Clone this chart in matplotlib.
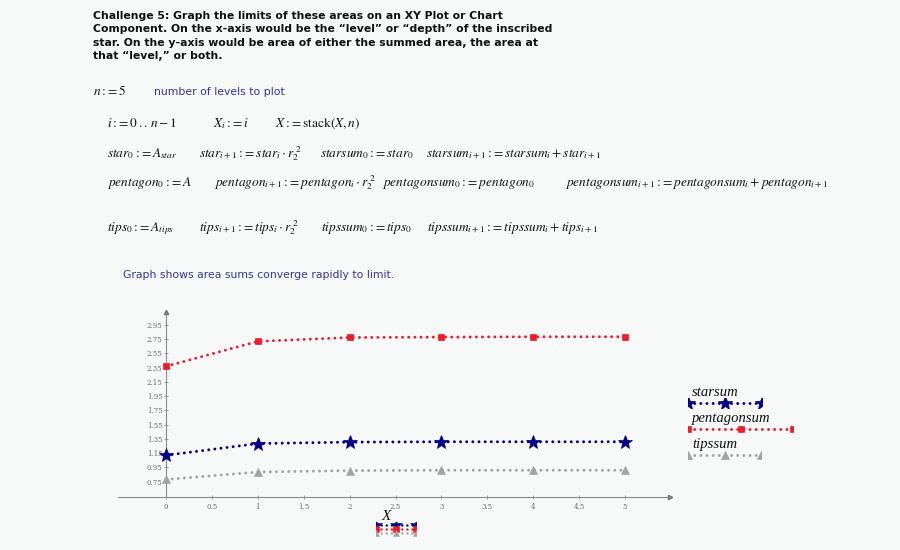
import matplotlib
matplotlib.use("Agg")
import matplotlib.pyplot as plt

plt.rcParams['mathtext.fontset'] = 'stix'

# ---- data ----
X = [0, 1, 2, 3, 4, 5]
starsum = [1.12, 1.285, 1.305, 1.31, 1.31, 1.31]
pentagonsum = [2.37, 2.72, 2.775, 2.78, 2.785, 2.785]
tipssum = [0.78, 0.885, 0.905, 0.91, 0.91, 0.91]
series_names = ["starsum", "pentagonsum", "tipssum"]
xticks = [0, 0.5, 1, 1.5, 2, 2.5, 3, 3.5, 4, 4.5, 5]
xtick_labels = ["0", "0.5", "1", "1.5", "2", "2.5", "3", "3.5", "4", "4.5", "5"]
yticks = [0.75, 0.95, 1.15, 1.35, 1.55, 1.75, 1.95, 2.15, 2.35, 2.55, 2.75, 2.95]
ytick_labels = ["0.75", "0.95", "1.15", "1.35", "1.55", "1.75", "1.95", "2.15",
                "2.35", "2.55", "2.75", "2.95"]

BG = '#f6f9f7'
NAVY = '#000080'
RED = '#ee1c2a'
GRAY = '#a3a3a3'
BLUE_TXT = '#35359a'
W, H = 900, 550

styles = {
    "starsum": dict(color=NAVY, marker='*', ms=10.5),
    "pentagonsum": dict(color=RED, marker='s', ms=5),
    "tipssum": dict(color=GRAY, marker='^', ms=5.5),
}
values = {"starsum": starsum, "pentagonsum": pentagonsum, "tipssum": tipssum}

DOT = (0, (0.01, 2.05))
LW = 2.15

fig = plt.figure(figsize=(9, 5.5), dpi=100, facecolor=BG)


def ftext(x, y, s, **kw):
    kw.setdefault('va', 'baseline')
    kw.setdefault('ha', 'left')
    return fig.text(x / W, 1 - y / H, s, **kw)


# ---- header text ----
title = ("Challenge 5: Graph the limits of these areas on an XY Plot or Chart\n"
         "Component. On the x-axis would be the \u201clevel\u201d or \u201cdepth\u201d of the inscribed\n"
         "star. On the y-axis would be area of either the summed area, the area at\n"
         "that \u201clevel,\u201d or both.")
ftext(93, 11, title, va='top', fontsize=7.8, fontweight='bold', family='DejaVu Sans',
      color='#111111', linespacing=1.42)

A = r'{:}\!{=}'
MS = 9.6
mk = dict(fontsize=MS, color='#111111')
ftext(93, 95, r'$n' + A + r'5$', **mk)
ftext(154, 95, 'number of levels to plot', fontsize=7.8, color=BLUE_TXT, family='DejaVu Sans')

ftext(107, 127, r'$i' + A + r'0\,..\,n-1$', **mk)
ftext(213, 127, r'$X_{i}' + A + r'i$', **mk)
ftext(275, 127, r'$X' + A + r'\mathrm{stack}\left(X,n\right)$', **mk)

ftext(107, 157, r'$star_{0}' + A + r'A_{star}$', **mk)
ftext(199, 157, r'$star_{i+1}' + A + r'star_{i}\cdot r_{2}^{\;2}$', **mk)
ftext(320, 157, r'$starsum_{0}' + A + r'star_{0}$', **mk)
ftext(426, 157, r'$starsum_{i+1}' + A + r'starsum_{i}+star_{i+1}$', **mk)

ftext(107, 186, r'$pentagon_{0}' + A + r'A$', **mk)
ftext(214, 186, r'$pentagon_{i+1}' + A + r'pentagon_{i}\cdot r_{2}^{\;2}$', **mk)
ftext(382, 186, r'$pentagonsum_{0}' + A + r'pentagon_{0}$', **mk)
ftext(565, 186, r'$pentagonsum_{i+1}' + A + r'pentagonsum_{i}+pentagon_{i+1}$', **mk)

ftext(107, 231, r'$tips_{0}' + A + r'A_{tips}$', **mk)
ftext(199, 231, r'$tips_{i+1}' + A + r'tips_{i}\cdot r_{2}^{\;2}$', **mk)
ftext(321, 231, r'$tipssum_{0}' + A + r'tips_{0}$', **mk)
ftext(427, 231, r'$tipssum_{i+1}' + A + r'tipssum_{i}+tips_{i+1}$', **mk)

ftext(123, 278, 'Graph shows area sums converge rapidly to limit.', fontsize=7.8,
      color=BLUE_TXT, family='DejaVu Sans')

# ---- main plot ----
x0, x1, ytop, ybot = 118, 670, 312, 497
ax = fig.add_axes([x0 / W, 1 - ybot / H, (x1 - x0) / W, (ybot - ytop) / H])
ax.set_facecolor(BG)
ax.set_xlim(-0.523, 5.49)
ax.set_ylim(0.534, 3.133)

for name in series_names:
    st = styles[name]
    ax.plot(X, values[name], color=st['color'], lw=LW, linestyle=DOT,
            dash_capstyle='round', marker=st['marker'], ms=st['ms'],
            markeredgewidth=0.5, markeredgecolor=st['color'], clip_on=False, zorder=3)

for s in ['top', 'right']:
    ax.spines[s].set_visible(False)
ax.spines['left'].set_position(('data', 0))
for s in ['left', 'bottom']:
    ax.spines[s].set_color('#8c8c8c')
    ax.spines[s].set_linewidth(0.8)

ax.set_xticks(xticks)
ax.set_xticklabels(xtick_labels)
ax.set_yticks(yticks)
ax.set_yticklabels(ytick_labels)
ax.tick_params(direction='inout', length=3, width=0.6, colors='#8c8c8c',
               labelsize=5, labelcolor='#6a6a6a')
ax.tick_params(axis='y', pad=1)
ax.tick_params(axis='x', pad=3)
for lab in ax.get_xticklabels() + ax.get_yticklabels():
    lab.set_family('DejaVu Serif')

# axis arrows
ax.plot(1, 0, '>', color='#707070', ms=3, transform=ax.transAxes, clip_on=False)
ax.plot(0, 1, '^', color='#707070', ms=3, transform=ax.get_xaxis_transform(), clip_on=False)

# x axis label and small trace indicator
ftext(386, 520, 'X', ha='center', fontsize=11, style='italic', family='Liberation Serif',
      color='#111111')
mini = fig.add_axes([376 / W, 1 - 537 / H, 40 / W, 15 / H])
mini.set_xlim(0, 1)
mini.set_ylim(0, 1)
mini.axis('off')
for k, name in enumerate(series_names):
    st = styles[name]
    yy = 0.78 - 0.27 * k
    mini.plot([0, 0.5, 1], [yy, yy, yy], color=st['color'], lw=1.8, linestyle=DOT,
              dash_capstyle='round', marker=st['marker'], ms=st['ms'] * 0.8,
              markeredgewidth=0.4, clip_on=True)

# ---- legend ----
leg_specs = {"starsum": (403, 688, 762), "pentagonsum": (429, 688, 793),
             "tipssum": (455, 688, 761)}
for name in series_names:
    st = styles[name]
    yl, xa, xb = leg_specs[name]
    lax = fig.add_axes([xa / W, 1 - (yl + 5) / H, (xb - xa) / W, 10 / H])
    lax.set_xlim(0, 1)
    lax.set_ylim(0, 1)
    lax.axis('off')
    lax.plot([0, 0.5, 1], [0.5, 0.5, 0.5], color=st['color'], lw=LW, linestyle=DOT,
             dash_capstyle='round', marker=st['marker'], ms=st['ms'],
             markeredgewidth=0.5, clip_on=True)
    ftext(692, yl - 7, name, fontsize=10.5, style='italic', family='Liberation Serif',
          color='#111111')

fig.savefig('out.png', dpi=100, facecolor=BG)
